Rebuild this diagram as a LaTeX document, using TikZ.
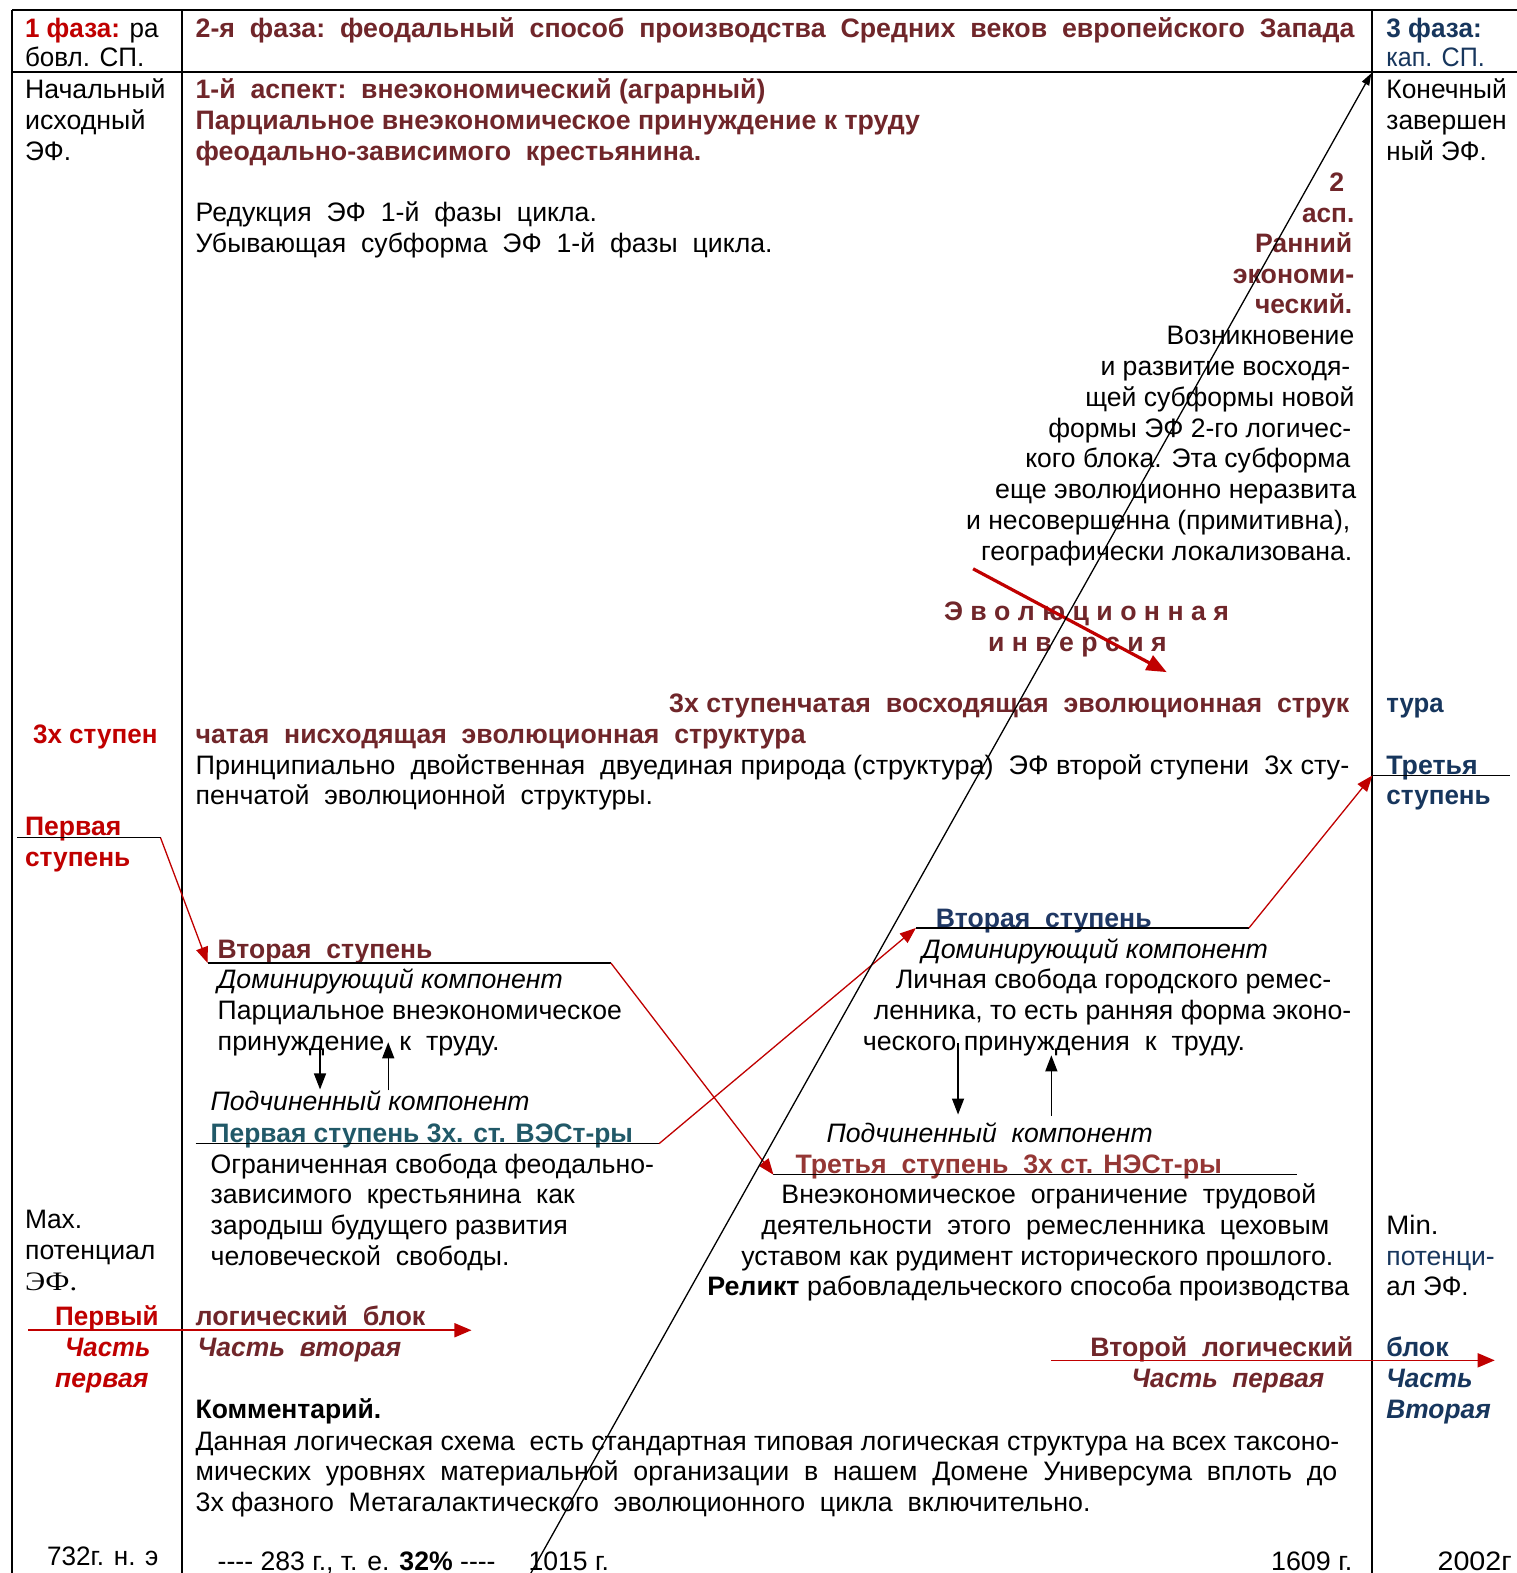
\documentclass[tikz,border=0pt]{standalone}
\usepackage{fontspec}
\setmainfont{Liberation Sans}
\newfontfamily\serifLS{Liberation Serif}
\usepackage{graphicx}
\usetikzlibrary{arrows.meta}
\definecolor{cmar}{RGB}{112,38,42}
\definecolor{cred}{RGB}{192,0,0}
\definecolor{cnav}{RGB}{23,54,93}
\definecolor{cblu}{RGB}{31,56,100}
\definecolor{cteal}{RGB}{33,89,104}
\definecolor{cbrick}{RGB}{149,55,53}
\newlength\ux \setlength\ux{0.5pt}
\newcommand\fz{\fontsize{13.3}{15.35}\selectfont}
\newcommand\fw[2]{\resizebox{#1\ux}{\height}{#2}}
\begin{document}
\begin{tikzpicture}[x=0.5pt,y=-0.5pt,
 tx/.style={inner sep=0pt,outer sep=0pt,anchor=base west,font=\fz,text=black,yshift=-1.2pt},
 txr/.style={tx,anchor=base east},
 tb/.style={font=\fz\bfseries},
 ti/.style={font=\fz\itshape},
 tbi/.style={font=\fz\bfseries\itshape},
 frameline/.style={line width=1pt},
 uline/.style={line width=0.65pt},
 rarr/.style={draw=cred,line width=0.65pt,-{Triangle[length=8pt,width=6pt]}},
 rthick/.style={draw=cred,line width=1.6pt,-{Triangle[length=10pt,width=8pt]}},
 rhor/.style={draw=cred,line width=0.8pt,-{Triangle[length=8.5pt,width=7pt]}},
 barr/.style={draw=black,line width=0.7pt,-{Triangle[length=8pt,width=6pt]}},
 bigarr/.style={draw=black,line width=0.65pt,-{Triangle[length=6pt,width=4pt]}}
]
\useasboundingbox (0,0) rectangle (1512,1568);
\fill[white] (0,0) rectangle (1512,1568);

% ---------- frame ----------
\coordinate (ftl) at (12,10);
\coordinate (ftr) at (1512,10);
\coordinate (fhl) at (12,72);
\coordinate (fhr) at (1512,72);
\coordinate (fbl) at (12,1568);
\coordinate (c1t) at (181,10);
\coordinate (c1b) at (181,1568);
\coordinate (c2t) at (1368,10);
\coordinate (c2b) at (1368,1568);
\draw[frameline] (ftl) -- (ftr);
\draw[frameline] (fhl) -- (fhr);
\draw[frameline] (ftl) -- (fbl);
\draw[frameline] (c1t) -- (c1b);
\draw[frameline] (c2t) -- (c2b);

% ---------- left column ----------
\node[tx] (l1) at (25,35) {\fw{133}{{\bfseries\color{cred}1 фаза:} ра}};
\node[tx] (l2) at (25,64) {\fw{119}{бовл. СП.}};
\node[tx] (l3) at (25,96) {\fw{140}{Начальный}};
\node[tx] (l4) at (25,127) {\fw{120}{исходный}};
\node[tx] (l5) at (25,158) {\fw{46}{ЭФ.}};
\node[tx,tb,text=cred] (l6) at (33,739) {\fw{124}{3х ступен}};
\node[tx,tb,text=cred] (l7) at (25,830) {\fw{96}{Первая}};
\node[tx,tb,text=cred] (l8) at (25,861) {\fw{105}{ступень}};
\node[tx] (l9) at (25,1222) {\fw{57}{Max.}};
\node[tx] (l10) at (25,1253) {\fw{130}{потенциал}};
\node[tx,font=\fz\serifLS] (l11) at (25,1284) {\fw{52}{ЭФ.}};
\node[tx,tb,text=cred] (l12) at (55,1319) {\fw{103}{Первый}};
\node[tx,tbi,text=cred] (l13) at (65,1350) {\fw{85}{Часть}};
\node[tx,tbi,text=cred] (l14) at (55,1381) {\fw{93}{первая}};
\node[tx] (l15) at (47,1558) {\fw{111}{732г. н. э}};

% ---------- middle column, top ----------
\node[tx,tb,text=cmar] (m1) at (195,35) {\fw{1155}{2-я\ \ фаза:\ \ феодальный\ \ способ\ \ производства\ \ Средних\ \ веков\ \ европейского\ \ Запада}};
\node[tx,tb,text=cmar] (m2) at (195,96) {\fw{568}{1-й\ \ аспект:\ \ внеэкономический (аграрный)}};
\node[tx,tb,text=cmar] (m3) at (195,127) {\fw{722}{Парциальное внеэкономическое принуждение к труду}};
\node[tx,tb,text=cmar] (m4) at (195,158) {\fw{504}{феодально-зависимого\ \ крестьянина.}};
\node[tx] (m5) at (195,218) {\fw{400}{Редукция\ \ ЭФ\ \ 1-й\ \ фазы\ \ цикла.}};
\node[tx] (m6) at (195,249) {\fw{575}{Убывающая\ \ субформа\ \ ЭФ\ \ 1-й\ \ фазы\ \ цикла.}};

% ---------- right-aligned block ----------
\node[txr,tb,text=cmar] (r1) at (1340,188) {2};
\node[txr,tb,text=cmar] (r2) at (1350,219) {\fw{52}{асп.}};
\node[txr,tb,text=cmar] (r3) at (1348,249) {\fw{97}{Ранний}};
\node[txr,tb,text=cmar] (r4) at (1350,280) {\fw{121}{экономи-}};
\node[txr,tb,text=cmar] (r5) at (1348,310) {\fw{97}{ческий.}};
\node[txr] (r6) at (1350,341) {\fw{187}{Возникновение}};
\node[txr] (r7) at (1346,372) {\fw{249}{и развитие восходя-}};
\node[txr] (r8) at (1350,403) {\fw{268}{щей субформы новой}};
\node[txr] (r9) at (1347,434) {\fw{302}{формы ЭФ 2-го логичес-}};
\node[txr] (r10) at (1346,464) {\fw{324}{кого блока. Эта субформа}};
\node[txr] (r11) at (1352,495) {\fw{360}{еще эволюционно неразвита}};
\node[txr] (r12) at (1346,525) {\fw{383}{и несовершенна (примитивна),}};
\node[txr] (r13) at (1348,556) {\fw{370}{географически локализована.}};

% ---------- evolutionary inversion ----------
\node[tx,tb,text=cmar] (e1) at (941,616) {\fw{284}{Э в о л ю ц и о н н а я}};
\node[tx,tb,text=cmar] (e2) at (985,647) {\fw{178}{и н в е р с и я}};
\coordinate (ia) at (970,567);
\coordinate (ib) at (1163,670);
\draw[rthick] (ia) -- (ib);

% ---------- structure lines ----------
\node[tx,tb,text=cmar] (s1) at (667,708) {\fw{678}{3х ступенчатая\ \ восходящая\ \ эволюционная\ \ струк}};
\node[tx,tb,text=cnav] (s2) at (1382,708) {\fw{57}{тура}};
\node[tx,tb,text=cmar] (s3) at (195,739) {\fw{608}{чатая\ \ нисходящая\ \ эволюционная\ \ структура}};
\node[tx] (s4) at (195,770) {\fw{1150}{Принципиально\ \ двойственная\ \ двуединая природа (структура)\ \ ЭФ второй ступени\ \ 3х сту-}};
\node[tx] (s5) at (195,800) {\fw{456}{пенчатой\ \ эволюционной\ \ структуры.}};
\node[tx,tb,text=cnav] (s6) at (1382,770) {\fw{91}{Третья}};
\node[tx,tb,text=cnav] (s7) at (1382,800) {\fw{104}{ступень}};

% ---------- right middle block ----------
\node[tx,tb,text=cblu] (b1) at (933,922) {\fw{215}{Вторая\ \ ступень}};
\node[tx,ti] (b2) at (919,953) {\fw{345}{Доминирующий компонент}};
\node[tx] (b3) at (893,983) {\fw{434}{Личная свобода городского ремес-}};
\node[tx] (b4) at (871,1014) {\fw{476}{ленника, то есть ранняя форма эконо-}};
\node[tx] (b5) at (860,1045) {\fw{381}{ческого принуждения\ \ к\ \ труду.}};
\node[tx,ti] (b6) at (824,1136) {\fw{325}{Подчиненный\ \ компонент}};
\node[tx,tb,text=cbrick] (b7) at (793,1167) {\fw{425}{Третья\ \ ступень\ \ 3х ст. НЭСт-ры}};
\node[tx] (b8) at (779,1197) {\fw{533}{Внеэкономическое\ \ ограничение\ \ трудовой}};
\node[tx] (b9) at (759,1228) {\fw{566}{деятельности\ \ этого\ \ ремесленника\ \ цеховым}};
\node[tx] (b10) at (739,1259) {\fw{590}{уставом как рудимент исторического прошлого.}};
\node[tx] (b11) at (705,1289) {\fw{640}{\textbf{Реликт} рабовладельческого способа производства}};

% ---------- left middle block ----------
\node[tx,tb,text=cmar] (d1) at (217,953) {\fw{214}{Вторая\ \ ступень}};
\node[tx,ti] (d2) at (217,983) {\fw{344}{Доминирующий компонент}};
\node[tx] (d3) at (217,1014) {\fw{403}{Парциальное внеэкономическое}};
\node[tx] (d4) at (217,1045) {\fw{281}{принуждение\ \ к\ \ труду.}};
\node[tx,ti] (d5) at (210,1105) {\fw{318}{Подчиненный компонент}};
\node[tx,tb,text=cteal] (d6) at (210,1136) {\fw{421}{Первая ступень 3х. ст. ВЭСт-ры}};
\node[tx] (d7) at (210,1167) {\fw{442}{Ограниченная свобода феодально-}};
\node[tx] (d8) at (210,1197) {\fw{363}{зависимого\ \ крестьянина\ \ как}};
\node[tx] (d9) at (210,1228) {\fw{356}{зародыш будущего развития}};
\node[tx] (d10) at (210,1259) {\fw{298}{человеческой\ \ свободы.}};

% ---------- lower part ----------
\node[tx,tb,text=cmar] (g1) at (195,1319) {\fw{229}{логический\ \ блок}};
\node[tx,tbi,text=cmar] (g2) at (197,1350) {\fw{203}{Часть\ \ вторая}};
\node[tx,tb,text=cmar] (g3) at (1087,1350) {\fw{262}{Второй\ \ логический}};
\node[tx,tb,text=cnav] (g4) at (1382,1350) {\fw{62}{блок}};
\node[tx,tbi,text=cmar] (g5) at (1128,1381) {\fw{192}{Часть\ \ первая}};
\node[tx,tbi,text=cnav] (g6) at (1382,1381) {\fw{86}{Часть}};
\node[tx,tbi,text=cnav] (g7) at (1382,1412) {\fw{104}{Вторая}};
\node[tx,tb] (k1) at (195,1412) {\fw{185}{Комментарий.}};
\node[tx] (k2) at (195,1443) {\fw{1140}{Данная логическая схема\ \ есть стандартная типовая логическая структура на всех таксоно-}};
\node[tx] (k3) at (195,1473) {\fw{1138}{мических\ \ уровнях\ \ материальной\ \ организации\ \ в\ \ нашем\ \ Домене\ \ Универсума\ \ вплоть\ \ до}};
\node[tx] (k4) at (195,1504) {\fw{892}{3х фазного\ \ Метагалактического\ \ эволюционного\ \ цикла\ \ включительно.}};
\node[tx] (t1) at (217,1563) {\fw{277}{-{}-{}-{}- 283 г., т. е. \textbf{32\%} -{}-{}-{}-}};
\node[tx] (t2) at (527,1563) {\fw{80}{1015 г.}};
\node[tx] (t3) at (1267,1563) {\fw{81}{1609 г.}};
\node[tx] (t4) at (1433,1563) {\fw{74}{2002г}};

% ---------- right column ----------
\node[tx,tb,text=cnav] (x1) at (1382,35) {\fw{95}{3 фаза:}};
\node[tx,text=cnav] (x2) at (1382,64) {\fw{98}{кап. СП.}};
\node[tx] (x3) at (1382,96) {\fw{120}{Конечный}};
\node[tx] (x4) at (1382,127) {\fw{120}{завершен}};
\node[tx] (x5) at (1382,158) {\fw{100}{ный ЭФ.}};
\node[tx] (x6) at (1382,1228) {\fw{52}{Min.}};
\node[tx,text=cnav] (x7) at (1382,1259) {\fw{108}{потенци-}};
\node[tx] (x8) at (1382,1289) {\fw{82}{ал ЭФ.}};

% ---------- underlines and connectors ----------
\coordinate (u1a) at (17,835);
\coordinate (u1b) at (160,835);
\coordinate (u2a) at (207,960);
\coordinate (u2b) at (609,960);
\coordinate (u3a) at (771,1171);
\coordinate (u3b) at (1293,1171);
\coordinate (u4a) at (195,1140);
\coordinate (u4b) at (657,1140);
\coordinate (u5a) at (913,925);
\coordinate (u5b) at (1245,925);
\coordinate (u6a) at (1368,773);
\coordinate (u6b) at (1505,773);
\draw[uline] (u1a) -- (u1b);
\draw[uline] (u2a) -- (u2b);
\draw[uline] (u3a) -- (u3b);
\draw[uline] (u4a) -- (u4b);
\draw[uline] (u5a) -- (u5b);
\draw[uline] (u6a) -- (u6b);
\draw[rarr] (u1b) -- (u2a);
\draw[rarr] (u2b) -- (u3a);
\draw[rarr] (u4b) -- (u5a);
\draw[rarr] (u5b) -- (u6a);

% horizontal block arrows
\coordinate (h1a) at (28,1326);
\coordinate (h1b) at (470,1326);
\coordinate (h2a) at (1048,1356);
\coordinate (h2b) at (1490,1356);
\draw[rhor] (h1a) -- (h1b);
\draw[rhor] (h2a) -- (h2b);

% small black arrows
\coordinate (a1a) at (319,1043);
\coordinate (a1b) at (319,1086);
\coordinate (a2a) at (387,1087);
\coordinate (a2b) at (387,1039);
\coordinate (a3a) at (955,1040);
\coordinate (a3b) at (955,1111);
\coordinate (a4a) at (1048,1112);
\coordinate (a4b) at (1048,1052);
\draw[barr] (a1a) -- (a1b);
\draw[barr] (a2a) -- (a2b);
\draw[barr] (a3a) -- (a3b);
\draw[barr] (a4a) -- (a4b);

% big black diagonal arrow
\coordinate (bg1) at (527,1572);
\coordinate (bg2) at (1367,73);
\draw[bigarr] (bg1) -- (bg2);
\end{tikzpicture}
\end{document}
